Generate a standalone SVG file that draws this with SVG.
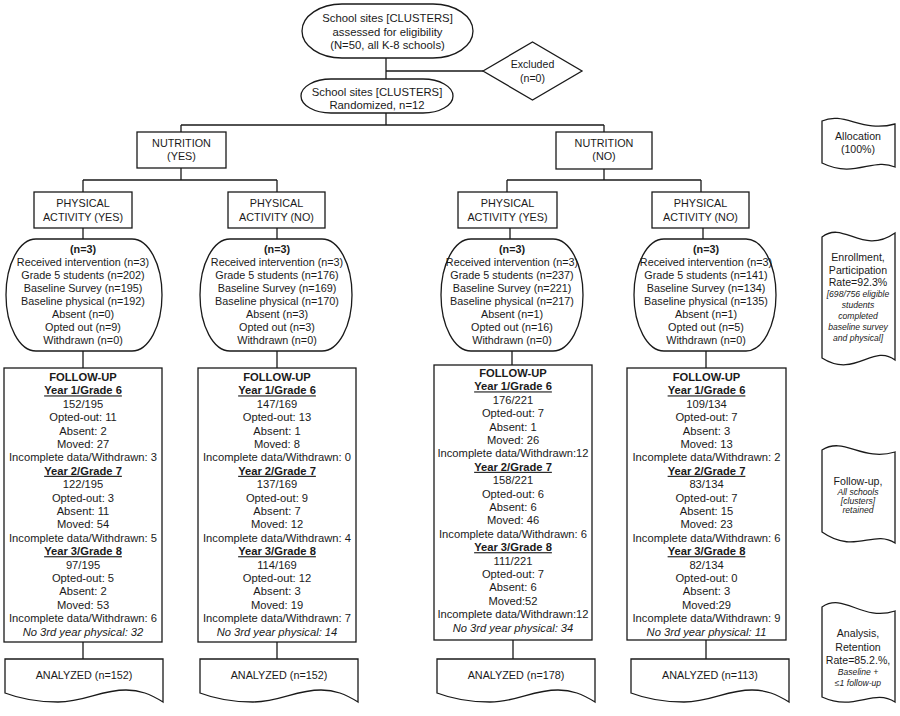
<svg xmlns="http://www.w3.org/2000/svg" width="900" height="716" viewBox="0 0 900 716">
<style>
.s{fill:#fff;stroke:#1a1a1a;stroke-width:1.3}
.c{fill:none;stroke:#1a1a1a;stroke-width:1.3}
text{font-family:"Liberation Sans",Arial,sans-serif;fill:#1a1a1a;text-anchor:middle}
.t11{font-size:11.3px}
.r{font-size:10.8px}
.f{font-size:11.2px}
.b{font-weight:bold}
.u{font-weight:bold;text-decoration:underline}
.i{font-style:italic}
.lab{font-size:10.6px}
.sm{font-size:8.6px;font-style:italic}
</style>
<rect width="900" height="716" fill="#fff"/>
<g id="connectors">
<path class="c" d="M386,58V79M386,71H483M386,113V125M181,125H604M181,125V132M604,125V132M181,168V180M83,180H277M83,180V192M277,180V192M604,169V180M507,180H701M507,180V192M701,180V192M83,228V239M277,228V239M510,228V239M703,228V239M83,351V368M277,351V368M512,351V365M706,351V368M83,642V659M277,642V659M513,640V659M706,640V659"/>
</g>
<g id="eligibility">
<rect class="s" x="302" y="4" width="171" height="54" rx="40" ry="27"/>
<text class="t11" x="387.5" y="22">School sites [CLUSTERS]</text>
<text class="t11" x="387.5" y="35.5">assessed for eligibility</text>
<text class="t11" x="387.5" y="49">(N=50, all K-8 schools)</text>
</g>
<g id="excluded">
<polygon class="s" points="483,71 532.5,42 582,71 532.5,100"/>
<text class="lab" x="532.5" y="68">Excluded</text>
<text class="lab" x="532.5" y="82">(n=0)</text>
</g>
<g id="randomized">
<rect class="s" x="301" y="79" width="152" height="34" rx="30" ry="17"/>
<text class="t11" x="377" y="96">School sites [CLUSTERS]</text>
<text class="t11" x="377" y="109">Randomized, n=12</text>
</g>
<g id="nutrition-yes">
<rect class="s" x="137" y="132" width="89" height="36"/>
<text class="r" x="181.5" y="147">NUTRITION</text>
<text class="r" x="181.5" y="160">(YES)</text>
</g>
<g id="nutrition-no">
<rect class="s" x="556" y="132" width="96" height="37"/>
<text class="r" x="604" y="147">NUTRITION</text>
<text class="r" x="604" y="160">(NO)</text>
</g>
<g id="pa-yes-1">
<rect class="s" x="34" y="192" width="98" height="36"/>
<text class="r" x="83" y="207">PHYSICAL</text>
<text class="r" x="83" y="221">ACTIVITY (YES)</text>
</g>
<g id="pa-no-1">
<rect class="s" x="228" y="192" width="97" height="36"/>
<text class="r" x="276.5" y="207">PHYSICAL</text>
<text class="r" x="276.5" y="221">ACTIVITY (NO)</text>
</g>
<g id="pa-yes-2">
<rect class="s" x="458" y="192" width="99" height="36"/>
<text class="r" x="507.5" y="207">PHYSICAL</text>
<text class="r" x="507.5" y="221">ACTIVITY (YES)</text>
</g>
<g id="pa-no-2">
<rect class="s" x="652" y="192" width="97" height="36"/>
<text class="r" x="700.5" y="207">PHYSICAL</text>
<text class="r" x="700.5" y="221">ACTIVITY (NO)</text>
</g>
<g id="enroll-1">
<rect class="s" x="6" y="239" width="156" height="112" rx="30" ry="56"/>
<text class="r"><tspan class="b" x="83" y="253">(n=3)</tspan><tspan x="83" y="266">Received intervention (n=3)</tspan><tspan x="83" y="279">Grade 5 students (n=202)</tspan><tspan x="83" y="292">Baseline Survey  (n=195)</tspan><tspan x="83" y="305">Baseline physical (n=192)</tspan><tspan x="83" y="318">Absent (n=0)</tspan><tspan x="83" y="331">Opted out (n=9)</tspan><tspan x="83" y="344">Withdrawn (n=0)</tspan></text>
</g>
<g id="enroll-2">
<rect class="s" x="200" y="239" width="152" height="112" rx="30" ry="56"/>
<text class="r"><tspan class="b" x="277" y="253">(n=3)</tspan><tspan x="277" y="266">Received intervention (n=3)</tspan><tspan x="277" y="279">Grade 5 students (n=176)</tspan><tspan x="277" y="292">Baseline Survey  (n=169)</tspan><tspan x="277" y="305">Baseline physical (n=170)</tspan><tspan x="277" y="318">Absent (n=3)</tspan><tspan x="277" y="331">Opted out (n=3)</tspan><tspan x="277" y="344">Withdrawn (n=0)</tspan></text>
</g>
<g id="enroll-3">
<rect class="s" x="441" y="239" width="142" height="112" rx="30" ry="56"/>
<text class="r"><tspan class="b" x="512" y="253">(n=3)</tspan><tspan x="512" y="266">Received intervention (n=3)</tspan><tspan x="512" y="279">Grade 5 students (n=237)</tspan><tspan x="512" y="292">Baseline Survey  (n=221)</tspan><tspan x="512" y="305">Baseline physical (n=217)</tspan><tspan x="512" y="318">Absent (n=1)</tspan><tspan x="512" y="331">Opted out (n=16)</tspan><tspan x="512" y="344">Withdrawn (n=0)</tspan></text>
</g>
<g id="enroll-4">
<rect class="s" x="634" y="239" width="142" height="112" rx="30" ry="56"/>
<text class="r"><tspan class="b" x="706" y="253">(n=3)</tspan><tspan x="706" y="266">Received intervention (n=3)</tspan><tspan x="706" y="279">Grade 5 students (n=141)</tspan><tspan x="706" y="292">Baseline Survey  (n=134)</tspan><tspan x="706" y="305">Baseline physical (n=135)</tspan><tspan x="706" y="318">Absent (n=1)</tspan><tspan x="706" y="331">Opted out (n=5)</tspan><tspan x="706" y="344">Withdrawn (n=0)</tspan></text>
</g>
<g id="followup-1">
<rect class="s" x="4" y="368" width="158" height="274"/>
<text class="f"><tspan class="b" x="83" y="381">FOLLOW-UP</tspan><tspan class="u" x="83" y="394.4">Year 1/Grade 6</tspan><tspan x="83" y="407.8">152/195</tspan><tspan x="83" y="421.2">Opted-out: 11</tspan><tspan x="83" y="434.6">Absent: 2</tspan><tspan x="83" y="448">Moved: 27</tspan><tspan x="83" y="461.4">Incomplete data/Withdrawn: 3</tspan><tspan class="u" x="83" y="474.8">Year 2/Grade 7</tspan><tspan x="83" y="488.2">122/195</tspan><tspan x="83" y="501.6">Opted-out: 3</tspan><tspan x="83" y="515">Absent: 11</tspan><tspan x="83" y="528.4">Moved: 54</tspan><tspan x="83" y="541.8">Incomplete data/Withdrawn: 5</tspan><tspan class="u" x="83" y="555.2">Year 3/Grade 8</tspan><tspan x="83" y="568.6">97/195</tspan><tspan x="83" y="582">Opted-out: 5</tspan><tspan x="83" y="595.4">Absent: 2</tspan><tspan x="83" y="608.8">Moved: 53</tspan><tspan x="83" y="622.2">Incomplete data/Withdrawn: 6</tspan><tspan class="i" x="83" y="635.6">No 3rd year physical: 32</tspan></text>
</g>
<g id="followup-2">
<rect class="s" x="198" y="368" width="158" height="274"/>
<text class="f"><tspan class="b" x="277" y="381">FOLLOW-UP</tspan><tspan class="u" x="277" y="394.4">Year 1/Grade 6</tspan><tspan x="277" y="407.8">147/169</tspan><tspan x="277" y="421.2">Opted-out: 13</tspan><tspan x="277" y="434.6">Absent: 1</tspan><tspan x="277" y="448">Moved: 8</tspan><tspan x="277" y="461.4">Incomplete data/Withdrawn: 0</tspan><tspan class="u" x="277" y="474.8">Year 2/Grade 7</tspan><tspan x="277" y="488.2">137/169</tspan><tspan x="277" y="501.6">Opted-out: 9</tspan><tspan x="277" y="515">Absent: 7</tspan><tspan x="277" y="528.4">Moved: 12</tspan><tspan x="277" y="541.8">Incomplete data/Withdrawn: 4</tspan><tspan class="u" x="277" y="555.2">Year 3/Grade 8</tspan><tspan x="277" y="568.6">114/169</tspan><tspan x="277" y="582">Opted-out: 12</tspan><tspan x="277" y="595.4">Absent: 3</tspan><tspan x="277" y="608.8">Moved: 19</tspan><tspan x="277" y="622.2">Incomplete data/Withdrawn: 7</tspan><tspan class="i" x="277" y="635.6">No 3rd year physical: 14</tspan></text>
</g>
<g id="followup-3">
<rect class="s" x="434" y="365" width="158" height="275"/>
<text class="f"><tspan class="b" x="513" y="377">FOLLOW-UP</tspan><tspan class="u" x="513" y="390.4">Year 1/Grade 6</tspan><tspan x="513" y="403.8">176/221</tspan><tspan x="513" y="417.2">Opted-out: 7</tspan><tspan x="513" y="430.6">Absent: 1</tspan><tspan x="513" y="444">Moved: 26</tspan><tspan x="513" y="457.4">Incomplete data/Withdrawn:12</tspan><tspan class="u" x="513" y="470.8">Year 2/Grade 7</tspan><tspan x="513" y="484.2">158/221</tspan><tspan x="513" y="497.6">Opted-out: 6</tspan><tspan x="513" y="511">Absent: 6</tspan><tspan x="513" y="524.4">Moved: 46</tspan><tspan x="513" y="537.8">Incomplete data/Withdrawn: 6</tspan><tspan class="u" x="513" y="551.2">Year 3/Grade 8</tspan><tspan x="513" y="564.6">111/221</tspan><tspan x="513" y="578">Opted-out: 7</tspan><tspan x="513" y="591.4">Absent: 6</tspan><tspan x="513" y="604.8">Moved:52</tspan><tspan x="513" y="618.2">Incomplete data/Withdrawn:12</tspan><tspan class="i" x="513" y="631.6">No 3rd year physical: 34</tspan></text>
</g>
<g id="followup-4">
<rect class="s" x="627" y="368" width="159" height="272"/>
<text class="f"><tspan class="b" x="706.5" y="381">FOLLOW-UP</tspan><tspan class="u" x="706.5" y="394.4">Year 1/Grade 6</tspan><tspan x="706.5" y="407.8">109/134</tspan><tspan x="706.5" y="421.2">Opted-out: 7</tspan><tspan x="706.5" y="434.6">Absent: 3</tspan><tspan x="706.5" y="448">Moved: 13</tspan><tspan x="706.5" y="461.4">Incomplete data/Withdrawn: 2</tspan><tspan class="u" x="706.5" y="474.8">Year 2/Grade 7</tspan><tspan x="706.5" y="488.2">83/134</tspan><tspan x="706.5" y="501.6">Opted-out: 7</tspan><tspan x="706.5" y="515">Absent: 15</tspan><tspan x="706.5" y="528.4">Moved: 23</tspan><tspan x="706.5" y="541.8">Incomplete data/Withdrawn: 6</tspan><tspan class="u" x="706.5" y="555.2">Year 3/Grade 8</tspan><tspan x="706.5" y="568.6">82/134</tspan><tspan x="706.5" y="582">Opted-out: 0</tspan><tspan x="706.5" y="595.4">Absent: 3</tspan><tspan x="706.5" y="608.8">Moved:29</tspan><tspan x="706.5" y="622.2">Incomplete data/Withdrawn: 9</tspan><tspan class="i" x="706.5" y="635.6">No 3rd year physical: 11</tspan></text>
</g>
<g id="analyzed-1">
<path class="s" d="M5,659H163V702C150,694 140,690 126,690C100,690 85,702 58,702C35,702 18,698 5,693Z"/>
<text class="r" x="84" y="679">ANALYZED (n=152)</text>
</g>
<g id="analyzed-2">
<path class="s" d="M200,659H358V702C345,694 335,690 321,690C295,690 280,702 253,702C230,702 213,698 200,693Z"/>
<text class="r" x="279" y="679">ANALYZED (n=152)</text>
</g>
<g id="analyzed-3">
<path class="s" d="M437,659H595V702C582,694 572,690 558,690C532,690 517,702 490,702C467,702 450,698 437,693Z"/>
<text class="r" x="516" y="679">ANALYZED (n=178)</text>
</g>
<g id="analyzed-4">
<path class="s" d="M631,659H789V702C776,694 766,690 752,690C726,690 711,702 684,702C661,702 644,698 631,693Z"/>
<text class="r" x="710" y="679">ANALYZED (n=113)</text>
</g>
<g id="label-allocation">
<path class="s" d="M822,121C844,111 862,133 895,124V167C873,157 855,179 822,163Z"/>
<text class="lab" x="858" y="140">Allocation</text>
<text class="lab" x="858" y="153">(100%)</text>
</g>
<g id="label-enrollment">
<path class="s" d="M822,237C844,220 862,256 895,233V360C873,343 855,379 822,358Z"/>
<text class="lab" x="858" y="261">Enrollment,</text>
<text class="lab" x="858" y="274">Participation</text>
<text class="lab" x="858" y="286">Rate=92.3%</text>
<text class="sm" x="858" y="296.5">[698/756 eligible</text>
<text class="sm" x="858" y="307.5">students</text>
<text class="sm" x="858" y="318.5">completed</text>
<text class="sm" x="858" y="329.5">baseline survey</text>
<text class="sm" x="858" y="340.5">and physical]</text>
</g>
<g id="label-followup">
<path class="s" d="M822,450C844,436 862,462 895,452V543C873,529 855,555 822,532Z"/>
<text class="lab" x="858" y="485">Follow-up,</text>
<text class="sm" x="858" y="494.5">All schools</text>
<text class="sm" x="858" y="503.5">[clusters]</text>
<text class="sm" x="858" y="512.5">retained</text>
</g>
<g id="label-analysis">
<path class="s" d="M822,607C844,592 862,622 895,611V702C873,688 855,712 822,697Z"/>
<text class="lab" x="858" y="637">Analysis,</text>
<text class="lab" x="858" y="651">Retention</text>
<text class="lab" x="858" y="664">Rate=85.2.%,</text>
<text class="sm" x="858" y="675">Baseline +</text>
<text class="sm" x="858" y="686">≤1 follow-up</text>
</g>
</svg>
